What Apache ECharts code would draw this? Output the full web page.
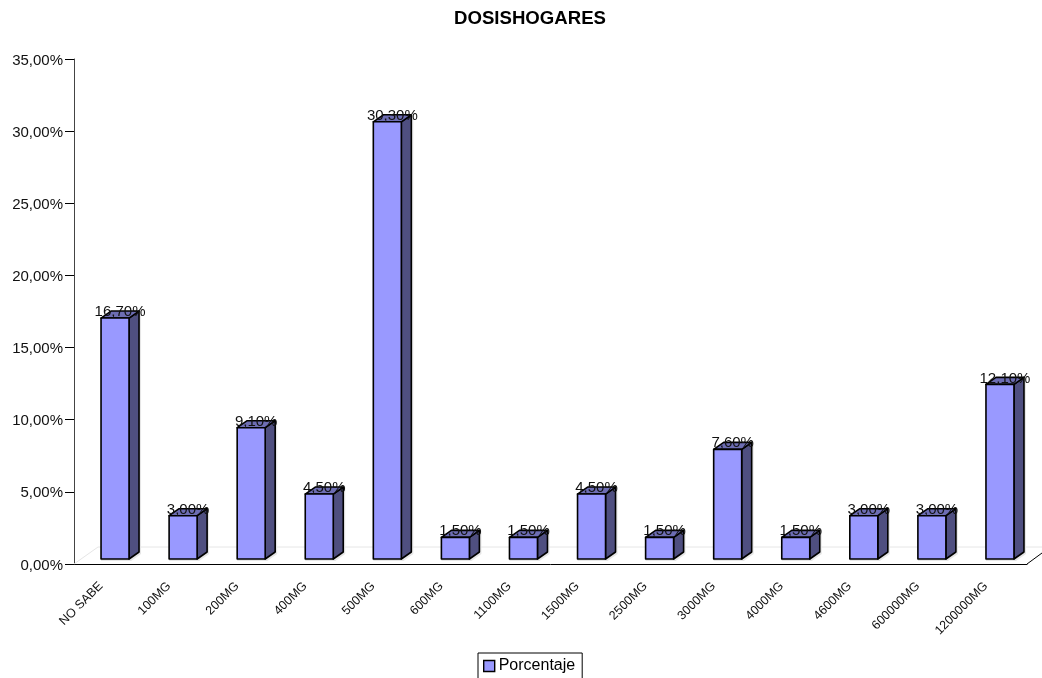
<!DOCTYPE html>
<html>
<head>
<meta charset="utf-8">
<style>html,body{margin:0;padding:0;background:#fff;overflow:hidden}#chart{width:1042px;height:678px}</style>
<script src="https://cdn.jsdelivr.net/npm/echarts@6/dist/echarts.min.js"></script>
</head>
<body>
<div id="chart"></div>
<script>
const categories = ['NO SABE','100MG','200MG','400MG','500MG','600MG','1100MG','1500MG','2500MG','3000MG','4000MG','4600MG','600000MG','1200000MG'];
const porcentaje = [16.7,3,9.1,4.5,30.3,1.5,1.5,4.5,1.5,7.6,1.5,3,3,12.1];

const fontFamily = '"Liberation Sans", Arial, sans-serif';
const fmt = v => v.toFixed(2).replace('.', ',') + '%';

// Pseudo-3D geometry, in pixels
const BAR_W = 28, DEPTH_X = 10, DEPTH_Y = 7, FLOOR_LIFT = 5, BAR_SHIFT = 7;
const FRONT = '#9999ff', SIDE = '#4f4f80', TOP = '#6d6db3', SHADOW = '#e6e6e6';

function renderBar(params, api) {
  const i = api.value(0), v = api.value(1);
  const top = api.coord([i, v]);
  const base = api.coord([i, 0]);
  const l = top[0] + BAR_SHIFT - BAR_W / 2, r = l + BAR_W;
  const t = top[1] - FLOOR_LIFT, b = base[1] - FLOOR_LIFT;
  const stroke = {stroke: '#000', lineWidth: 1.6, lineJoin: 'round'};
  const poly = (points, fill) => ({type: 'polygon', shape: {points}, style: Object.assign({fill}, stroke)});
  return {type: 'group', children: [
    {type: 'polygon', shape: {points: [
      [l, b + 2], [r + 2, b + 2], [r + DEPTH_X + 2, b - DEPTH_Y + 2],
      [r + DEPTH_X + 2, t - DEPTH_Y], [r, t], [l, t]
    ]}, style: {fill: SHADOW}},
    poly([[r, t], [r + DEPTH_X, t - DEPTH_Y], [r + DEPTH_X, b - DEPTH_Y], [r, b]], SIDE),
    poly([[l, t], [l + DEPTH_X, t - DEPTH_Y], [r + DEPTH_X, t - DEPTH_Y], [r, t]], TOP),
    poly([[l, t], [r, t], [r, b], [l, b]], FRONT),
    {type: 'text', z2: 10, style: {
      x: (l + r) / 2 + 5, y: t - DEPTH_Y + 1, text: fmt(v), align: 'center', verticalAlign: 'middle',
      font: '15px ' + fontFamily, fill: '#111'
    }}
  ]};
}

// Floor of the 3D box: back edge and the two receding edges
function renderFloor(params) {
  const c = params.coordSys, x0 = c.x, x1 = c.x + c.width, y = c.y + c.height;
  const floorStyle = {stroke: '#e6e6e6', lineWidth: 1, fill: null};
  return {type: 'group', children: [
    {type: 'polyline', shape: {points: [[x0, y], [x0 + 24, y - 17], [1042, y - 17]]}, style: floorStyle},
    {type: 'line', shape: {x1: x1, y1: y, x2: x1 + 15, y2: y - 11}, style: {stroke: '#000', lineWidth: 1}}
  ]};
}

const chart = echarts.init(document.getElementById('chart'), null, {renderer: 'canvas'});
chart.setOption({
  animation: false,
  backgroundColor: '#fff',
  title: {
    text: 'DOSISHOGARES', left: 525, top: 4, textAlign: 'center',
    textStyle: {fontFamily, fontSize: 18.6, fontWeight: 'bold', color: '#000'}
  },
  legend: {
    data: [{name: 'Porcentaje', icon: 'rect'}], left: 478, top: 653,
    padding: [5, 7, 6, 5], itemWidth: 11, itemHeight: 11, itemGap: 4,
    borderColor: '#000', borderWidth: 1,
    textStyle: {fontFamily, fontSize: 16, color: '#000', padding: [0, 0, 0, -1]},
    itemStyle: {borderColor: '#000', borderWidth: 1.4}
  },
  grid: {left: 74, right: 15, top: 59, bottom: 114},
  xAxis: {
    type: 'category', data: categories, boundaryGap: true,
    axisLine: {lineStyle: {color: '#000', width: 1}},
    axisTick: {length: 9, lineStyle: {color: '#000'}, alignWithLabel: false},
    axisLabel: {rotate: 45, interval: 0, margin: 13, padding: [0, 10, 0, 0], fontFamily, fontSize: 12.5, color: '#111'},
    splitLine: {show: false}
  },
  yAxis: {
    type: 'value', min: 0, max: 35, interval: 5,
    axisLine: {show: true, lineStyle: {color: '#444', width: 1}},
    axisTick: {show: true, length: 9, lineStyle: {color: '#000'}},
    axisLabel: {formatter: fmt, margin: 11, verticalAlign: 'top', lineHeight: 15, padding: [-6, 0, 0, 0], fontFamily, fontSize: 15, color: '#111'},
    splitLine: {show: false}
  },
  series: [
    {type: 'custom', name: 'floor', silent: true, z: 1, renderItem: renderFloor, data: [0], clip: false},
    {
      type: 'custom', name: 'Porcentaje', z: 2, renderItem: renderBar,
      itemStyle: {color: FRONT},
      encode: {x: 0, y: 1},
      data: porcentaje.map((v, i) => [i, v]), clip: false
    }
  ]
});
</script>
</body>
</html>
